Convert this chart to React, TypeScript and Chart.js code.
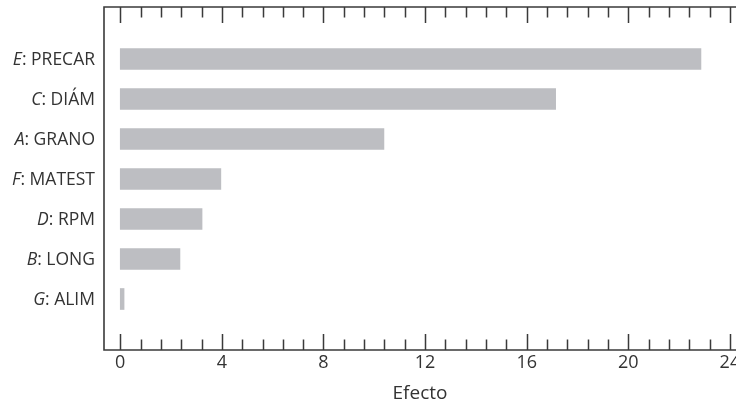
import { useEffect, useRef } from "react";
import { Chart, registerables } from "chart.js";

Chart.register(...registerables);

const factorLetters = ["E", "C", "A", "F", "D", "B", "G"];
const factorNames = ["PRECAR", "DIÁM", "GRANO", "MATEST", "RPM", "LONG", "ALIM"];
const effects = [22.86, 17.14, 10.38, 3.96, 3.22, 2.35, 0.15];
const xTickValues = [0, 4, 8, 12, 16, 20, 24];
const minorStep = 0.8;
const xTitle = "Efecto";

const FONT = "'Open Sans', 'Noto Sans', sans-serif";
const INK = "#333333";
const FRAME = "#3a3a3a";
const BAR = "#bdbec2";

export default function App() {
  const ref = useRef<HTMLCanvasElement>(null);

  useEffect(() => {
    if (!ref.current) return;

    const framePlugin = {
      id: "framePlugin",
      afterDraw(chart: any) {
        const { ctx, chartArea: a, scales } = chart;
        const xs = scales.x;
        const ys = scales.y;
        ctx.save();
        ctx.strokeStyle = FRAME;
        ctx.lineWidth = 1.6;
        ctx.beginPath();
        ctx.moveTo(a.right, a.top);
        ctx.lineTo(a.left, a.top);
        ctx.lineTo(a.left, a.bottom);
        ctx.lineTo(a.right, a.bottom);
        ctx.stroke();

        const maxTick = xTickValues[xTickValues.length - 1];
        const n = Math.round(maxTick / minorStep);
        ctx.lineWidth = 1.5;
        ctx.beginPath();
        for (let k = 0; k <= n; k++) {
          const v = k * minorStep;
          const major = k % 5 === 0;
          const px = Math.round(xs.getPixelForValue(v)) + 0.5;
          const len = major ? 16 : 10.5;
          ctx.moveTo(px, a.bottom);
          ctx.lineTo(px, a.bottom - len);
          ctx.moveTo(px, a.top);
          ctx.lineTo(px, a.top + len);
        }
        ctx.stroke();

        ctx.fillStyle = INK;
        ctx.textBaseline = "middle";
        ctx.textAlign = "right";
        const rightX = a.left - 9;
        factorLetters.forEach((letter, i) => {
          const py = ys.getPixelForValue(i) + 1;
          const rest = ": " + factorNames[i];
          ctx.font = `17.5px ${FONT}`;
          const w = ctx.measureText(rest).width;
          ctx.fillText(rest, rightX, py);
          ctx.font = `italic 17.5px ${FONT}`;
          ctx.fillText(letter, rightX - w, py);
        });
        ctx.restore();
      },
    };

    const chart = new Chart(ref.current, {
      type: "bar",
      data: {
        datasets: [
          {
            data: effects.map((v, i) => ({ x: v, y: i })),
            backgroundColor: BAR,
            borderWidth: 0,
            barThickness: 21,
          },
        ],
      },
      options: {
        indexAxis: "y",
        animation: false,
        responsive: true,
        maintainAspectRatio: false,
        layout: { padding: { left: 104, top: 7, right: 0, bottom: 0 } },
        plugins: { legend: { display: false }, tooltip: { enabled: false } },
        scales: {
          x: {
            type: "linear",
            min: -0.64,
            max: 24.24,
            offset: false,
            grid: { display: false },
            border: { display: false },
            afterBuildTicks: (scale: any) => {
              scale.ticks = xTickValues.map((v) => ({ value: v }));
            },
            afterFit: (scale: any) => {
              scale.height = 53;
              scale.paddingLeft = 0;
              scale.paddingRight = 0;
            },
            ticks: {
              color: INK,
              font: { family: FONT, size: 18 },
              padding: -6,
              maxRotation: 0,
              callback: (v: any) => String(v),
            },
            title: {
              display: true,
              text: xTitle,
              color: INK,
              font: { family: FONT, size: 19 },
              padding: { top: 0, bottom: -2 },
            },
          },
          y: {
            type: "linear",
            display: false,
            offset: false,
            reverse: true,
            min: -1.3,
            max: 7.275,
          },
        },
      },
      plugins: [framePlugin],
    } as any);

    return () => chart.destroy();
  }, []);

  return (
    <div style={{ position: "fixed", left: 0, top: 0, width: 736, height: 403, background: "#fff" }}>
      <canvas ref={ref} style={{ display: "block" }} />
    </div>
  );
}
